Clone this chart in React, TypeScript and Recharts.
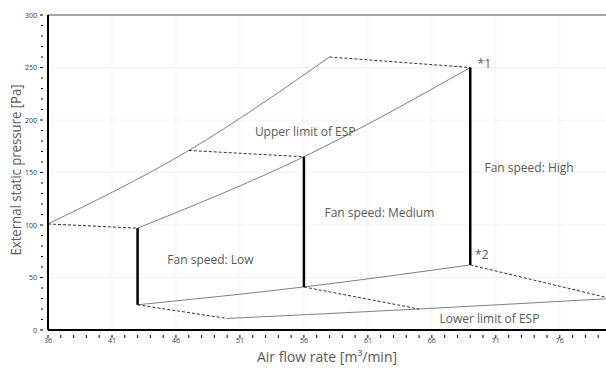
import { LineChart, Line, XAxis, YAxis, CartesianGrid, ReferenceLine, ReferenceDot } from 'recharts';

// airflow [m3/min] / pressure [Pa]
const upperLimit = [{ x: 36, y: 101 }, { x: 47, y: 171 }, { x: 58, y: 260 }];
const fanCurve = [{ x: 43, y: 97 }, { x: 56, y: 165 }, { x: 69, y: 250 }];
const fanBottom = [{ x: 43, y: 24 }, { x: 56, y: 41 }, { x: 69, y: 62 }];
const lowerLimit = [{ x: 50, y: 11 }, { x: 65, y: 20 }, { x: 80, y: 30 }];

// dashed links between the curves
const links = [
    [upperLimit[0], fanCurve[0]],
    [upperLimit[1], fanCurve[1]],
    [upperLimit[2], fanCurve[2]],
    [fanBottom[0], lowerLimit[0]],
    [fanBottom[1], lowerLimit[1]],
    [fanBottom[2], lowerLimit[2]],
];
// thick verticals: low / medium / high
const speeds = [0, 1, 2].map(i => [fanCurve[i], fanBottom[i]]);

const xTicks = Array.from({ length: 45 }, (_, i) => 36 + i);
const yTicks = Array.from({ length: 31 }, (_, i) => i * 10);
const xMajor = [41, 46, 51, 56, 61, 66, 71, 76];
const yMajor = [50, 100, 150, 200, 250];

const notes = [
    { x: 56.1, y: 189, text: 'Upper limit of ESP' },
    { x: 73.6, y: 155, text: 'Fan speed: High' },
    { x: 61.9, y: 112, text: 'Fan speed: Medium' },
    { x: 48.7, y: 67, text: 'Fan speed: Low' },
    { x: 70.5, y: 10.5, text: 'Lower limit of ESP' },
    { x: 70.1, y: 254, text: '*1' },
    { x: 69.9, y: 72, text: '*2' },
];

const FONT = '"Open Sans", sans-serif';
const TEXT = '#595959';

const XTick = ({ x, y, payload }: any) => {
    const major = (payload.value - 36) % 5 === 0;
    return (
        <g>
            <line x1={x} y1={y - 3} x2={x} y2={y} stroke="#000" />
            {major && (
                <text x={x} y={y + 5} textAnchor="middle" fontSize={7} fill="#333" fontFamily={FONT}>{payload.value}</text>
            )}
        </g>
    );
};

const YTick = ({ x, y, payload }: any) => {
    const major = payload.value % 50 === 0;
    return (
        <g>
            <line x1={x + 3} y1={y} x2={x + (major ? 0 : 1)} y2={y} stroke="#000" />
            {major && (
                <text x={x - 3} y={y + 2.5} textAnchor="end" fontSize={7} fill="#333" fontFamily={FONT}>{payload.value}</text>
            )}
        </g>
    );
};

export default function App() {
    return (
        <div style={{ position: 'absolute', left: 0, top: 0, width: 606, height: 370, overflow: 'hidden', background: '#fff' }}>
            <LineChart width={621} height={370} margin={{ top: 15, right: 10, bottom: 0, left: 0 }}>
                <CartesianGrid stroke="#f2f2f2" horizontalValues={yMajor} verticalValues={xMajor} />
                <XAxis
                    dataKey="x"
                    type="number"
                    domain={[36, 80]}
                    ticks={xTicks}
                    interval={0}
                    height={40}
                    axisLine={{ stroke: '#000', strokeWidth: 2 }}
                    tickLine={false}
                    tick={<XTick />}
                    label={{
                        content: () => (
                            <text x={327} y={362} textAnchor="middle" fontSize={14} fill={TEXT} fontFamily={FONT}>
                                Air flow rate [m³/min]
                            </text>
                        ),
                    }}
                />
                <YAxis
                    type="number"
                    domain={[0, 300]}
                    ticks={yTicks}
                    interval={0}
                    width={48}
                    axisLine={{ stroke: '#000', strokeWidth: 2 }}
                    tickLine={false}
                    tick={<YTick />}
                    label={{
                        content: () => (
                            <text
                                x={15}
                                y={170}
                                transform="rotate(-90 15 170)"
                                textAnchor="middle"
                                dominantBaseline="central"
                                fontSize={14}
                                textLength={171}
                                lengthAdjust="spacingAndGlyphs"
                                fill={TEXT}
                                fontFamily={FONT}
                            >
                                External static pressure [Pa]
                            </text>
                        ),
                    }}
                />
                <ReferenceLine y={300} stroke="#a6a6a6" strokeWidth={2} />

                {[upperLimit, fanCurve, fanBottom, lowerLimit].map((d, i) => (
                    <Line key={`c${i}`} data={d} dataKey="y" type="monotone" stroke="#808080" strokeWidth={1} dot={false} isAnimationActive={false} />
                ))}
                {links.map((d, i) => (
                    <Line key={`l${i}`} data={d} dataKey="y" type="linear" stroke="#333" strokeWidth={1} strokeDasharray="3 2" dot={false} isAnimationActive={false} />
                ))}
                {speeds.map((d, i) => (
                    <Line key={`s${i}`} data={d} dataKey="y" type="linear" stroke="#000" strokeWidth={2.5} dot={false} isAnimationActive={false} />
                ))}

                {notes.map((n, i) => (
                    <ReferenceDot
                        key={`n${i}`}
                        x={n.x}
                        y={n.y}
                        r={0}
                        stroke="none"
                        label={{ value: n.text, position: 'center', fontSize: 12, fill: TEXT, fontFamily: FONT }}
                    />
                ))}
            </LineChart>
        </div>
    );
}
